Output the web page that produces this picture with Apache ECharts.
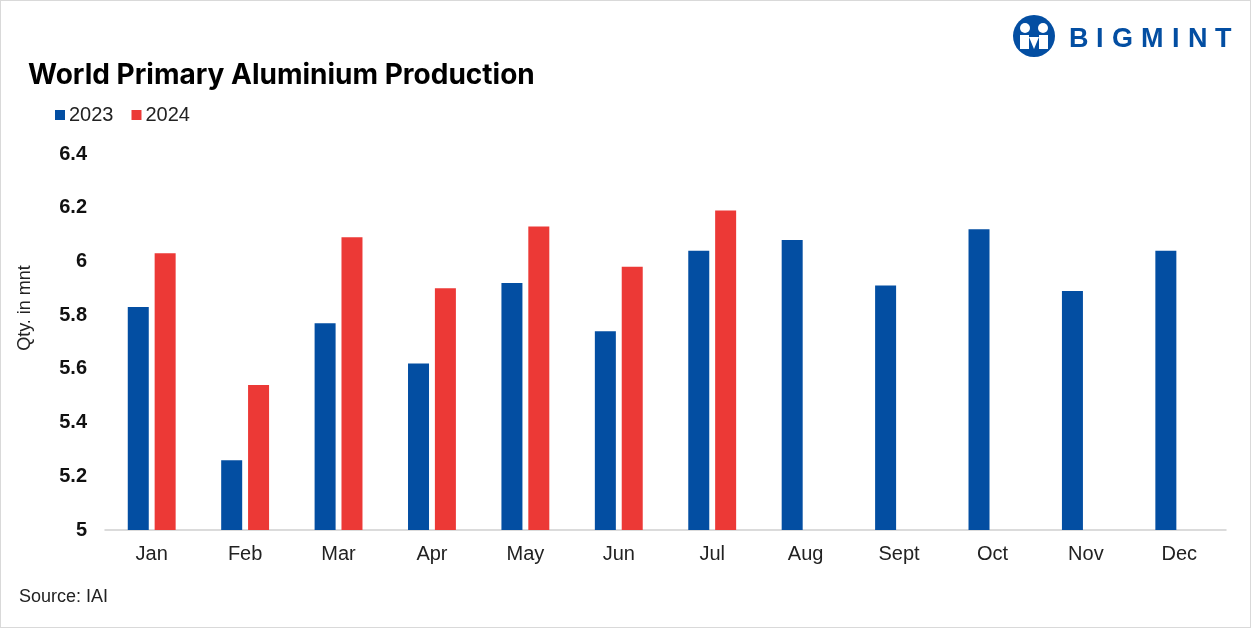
<!DOCTYPE html>
<html><head><meta charset="utf-8">
<script src="https://cdn.jsdelivr.net/npm/echarts@6/dist/echarts.min.js"></script>
<style>html,body{margin:0;padding:0;background:#fff;}#c{width:1251px;height:628px;box-sizing:border-box;border:1px solid #d9d9d9;}</style>
</head><body><div id="c"></div>
<script>
const categories = ['Jan','Feb','Mar','Apr','May','Jun','Jul','Aug','Sept','Oct','Nov','Dec'];
const values2023 = [5.83,5.26,5.77,5.62,5.92,5.74,6.04,6.08,5.91,6.12,5.89,6.04];
const values2024 = [6.03,5.54,6.09,5.90,6.13,5.98,6.19,null,null,null,null,null];
const seriesNames = ['2023','2024'];

const BLUE = '#034EA2', RED = '#EC3936';
const FONT = '"Liberation Sans", Arial, sans-serif';
const chart = echarts.init(document.getElementById('c'), null, {renderer:'canvas'});

// logo letters
const letters = 'BIGMINT'.split('');
const lw = {B:19,I:8,G:21,M:23,N:19,T:17};
let lx = 1068; const logoEls = [];
letters.forEach(ch => { logoEls.push({type:'text', left:lx, top:25, style:{text:ch, font:'bold 27px ' + FONT, fill:BLUE}}); lx += lw[ch] + 8; });

chart.setOption({
  animation:false,
  textStyle:{fontFamily:FONT},
  title:{text:'World Primary Aluminium Production', left:22, top:56,
    textStyle:{fontSize:28, fontWeight:'bold', color:'#000', fontFamily:'Inter, "Liberation Sans", sans-serif'}},
  legend:{left:49, top:99, itemWidth:10, itemHeight:10, itemGap:18, icon:'rect',
    textStyle:{fontSize:20, color:'#222', padding:[0,0,0,-1]}, data:seriesNames},
  grid:{left:104, right:24, top:153, bottom:97, containLabel:false},
  xAxis:{type:'category', data:categories,
    axisLine:{lineStyle:{color:'#d0d0d0', width:1.5}}, axisTick:{show:false},
    axisLabel:{fontSize:20, color:'#222', margin:14}},
  yAxis:{type:'value', min:5, max:6.4, interval:0.2,
    axisLine:{show:false}, axisTick:{show:false}, splitLine:{show:false},
    axisLabel:{fontSize:20, fontWeight:'bold', color:'#111', margin:18,
      formatter: v => String(Math.round(v*10)/10)}},
  series:[
    {name:seriesNames[0], type:'bar', data:values2023, barWidth:21, barGap:'28%', itemStyle:{color:BLUE}},
    {name:seriesNames[1], type:'bar', data:values2024, barWidth:21, itemStyle:{color:RED}}
  ],
  graphic:[
    {type:'text', x:24, y:307, rotation:Math.PI/2, style:{text:'Qty. in mnt', font:'18px ' + FONT, fill:'#222', textAlign:'center', textVerticalAlign:'middle'}},
    {type:'text', left:18, top:587, style:{text:'Source: IAI', font:'18px ' + FONT, fill:'#222'}},
    {type:'circle', shape:{cx:1033, cy:35, r:21}, style:{fill:BLUE}},
    {type:'circle', shape:{cx:1024, cy:27, r:5}, style:{fill:'#fff'}},
    {type:'circle', shape:{cx:1042, cy:27, r:5}, style:{fill:'#fff'}},
    {type:'rect', shape:{x:1019, y:34, width:9, height:14}, style:{fill:'#fff'}},
    {type:'rect', shape:{x:1038, y:34, width:9, height:14}, style:{fill:'#fff'}},
    {type:'polygon', shape:{points:[[1028,36],[1038,36],[1033,48]]}, style:{fill:'#fff'}}
  ].concat(logoEls)
});
</script></body></html>
